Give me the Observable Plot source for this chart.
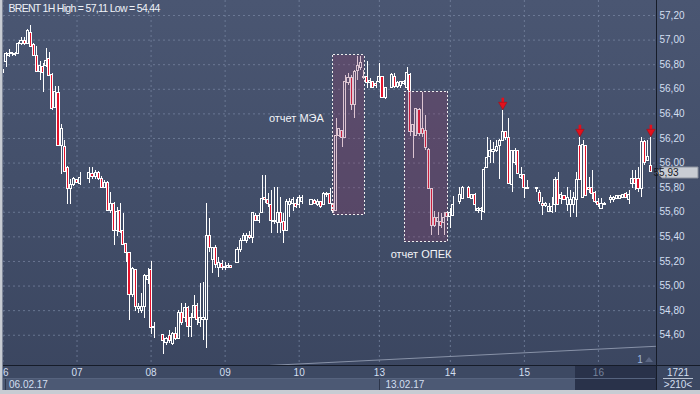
<!DOCTYPE html>
<html><head><meta charset="utf-8">
<script src="https://cdn.jsdelivr.net/npm/d3@7"></script>
<script src="https://cdn.jsdelivr.net/npm/@observablehq/plot@0.6"></script>
<style>
html,body{margin:0;padding:0;background:#c8ccd3;}
#chart{width:700px;height:394px;overflow:hidden;}
svg{display:block;}
</style></head><body><div id="chart"></div>
<script>
// ---- data (hour index since 06.02 00:00 on the chart's time grid) ----
const hours = [
0,1,2,3,4,5,6,7,8,9,10,11,12,13,14,15,16,17,18,19,20,21,22,23,24,25,
28,29,30,31,32,33,34,35,36,37,38,39,40,41,42,43,44,45,46,47,48,49,
52,53,54,55,56,57,58,59,60,61,62,63,64,65,66,67,68,69,70,71,72,73,74,
76,77,78,79,80,81,82,83,84,85,86,87,88,89,90,91,92,93,94,95,96,97,
100,101,102,103,104,105,106,107,108,109,110,111,112,113,114,115,116,117,118,119,120,121,122,123,124,
126,127,128,129,130,131,132,133,134,135,136,137,138,139,140,141,142,143,144,145,146,
148,149,
151,152,153,154,155,156,157,158,159,160,161,162,163,164,165,166,167,168,169,170,
173,174,175,176,177,178,179,180,181,182,183,184,185,186,187,188,189,190,191,192,193,194,195,
197,198,199,200,201,202,203,204,205,206,207,208,209,210];
const open = [
56.74,56.82,56.87,56.89,56.88,56.89,56.97,56.99,56.97,57.06,56.96,56.87,56.74,56.78,56.79,56.85,56.72,56.45,56.57,56.14,56.13,55.96,55.79,55.82,55.86,55.83,
55.87,55.91,55.89,55.92,55.87,55.80,55.84,55.61,55.67,55.45,55.61,55.45,55.34,55.27,54.93,55.13,54.81,54.80,54.83,55.05,55.13,54.66,
54.60,54.54,54.59,54.53,54.61,54.57,54.78,54.74,54.82,54.67,54.74,54.84,54.70,54.72,54.72,55.41,55.21,55.31,55.15,55.18,55.15,55.15,55.16,
55.19,55.29,55.37,55.37,55.41,55.39,55.57,55.53,55.59,55.72,55.70,55.66,55.53,55.51,55.59,55.52,55.45,55.66,55.67,55.67,55.66,55.68,
55.66,55.69,55.66,55.68,55.66,55.74,55.75,55.67,55.61,56.22,56.26,56.20,56.65,56.69,56.47,56.75,56.77,56.69,56.70,56.65,56.66,56.64,56.66,56.70,56.53,
56.61,56.70,56.62,56.63,56.64,56.61,56.72,56.25,56.22,56.43,56.28,56.26,56.11,55.79,55.55,55.52,55.52,55.51,55.59,55.56,55.57,
55.68,55.71,
55.80,55.71,55.74,55.61,55.61,55.60,55.96,56.05,56.09,56.10,56.14,56.18,56.25,56.20,55.82,56.00,56.10,55.88,55.90,55.79,
55.79,55.76,55.67,55.65,55.60,55.60,55.66,55.86,55.71,55.73,55.66,55.66,55.66,55.70,56.14,55.72,56.14,55.80,55.80,55.76,55.68,55.63,55.66,
55.70,55.70,55.71,55.71,55.72,55.75,55.70,55.83,55.87,55.87,55.79,56.17,56.02,55.98];
const high = [
56.76,56.90,56.92,56.90,56.90,56.98,57.02,57.02,57.09,57.12,56.97,56.95,56.83,56.81,56.93,56.90,56.73,56.62,56.62,56.31,56.18,55.97,55.87,55.88,55.87,55.92,
55.96,55.96,55.94,55.93,55.89,55.86,55.85,55.76,55.68,55.64,55.67,55.59,55.35,55.27,55.15,55.13,54.86,54.94,55.09,55.14,55.20,54.70,
54.61,54.58,54.64,54.62,54.66,54.80,54.86,54.86,54.83,54.78,54.92,54.86,55.02,55.03,55.67,55.55,55.31,55.33,55.23,55.21,55.19,55.18,55.16,
55.31,55.39,55.43,55.43,55.44,55.60,55.59,55.59,55.90,55.90,55.75,55.78,55.80,55.80,55.72,55.59,55.70,55.71,55.72,55.70,55.74,55.74,
55.70,55.70,55.70,55.69,55.76,55.76,55.79,55.67,56.36,56.28,56.26,56.71,56.73,56.71,56.75,56.87,56.87,56.75,56.83,56.69,56.66,56.66,56.81,56.70,56.61,
56.73,56.73,56.66,56.66,56.67,56.78,56.73,56.31,56.44,56.44,56.57,56.39,56.12,55.79,55.61,55.60,55.59,55.60,55.60,55.63,55.73,
55.80,55.81,
55.81,55.74,55.75,55.64,55.64,55.96,56.21,56.18,56.17,56.18,56.19,56.43,56.26,56.36,56.10,56.12,56.10,55.96,55.90,55.86,
55.79,55.78,55.72,55.68,55.67,55.72,55.88,55.92,55.76,55.74,55.80,55.78,55.76,55.92,56.21,56.18,56.14,55.88,55.94,55.77,55.71,55.71,55.68,
55.74,55.73,55.74,55.74,55.74,55.76,55.78,55.94,55.94,55.96,56.21,56.18,56.18,56.21];
const low = [
56.73,56.78,56.86,56.87,56.87,56.89,56.96,56.96,56.97,56.94,56.87,56.74,56.67,56.57,56.78,56.71,56.43,56.44,56.14,55.91,55.92,55.66,55.66,55.81,55.83,55.82,
55.83,55.87,55.87,55.86,55.79,55.79,55.61,55.59,55.33,55.40,55.43,55.33,55.19,54.72,54.91,54.79,54.78,54.78,54.74,55.01,54.61,54.57,
54.44,54.52,54.53,54.52,54.56,54.57,54.68,54.70,54.58,54.58,54.74,54.68,54.66,54.56,54.49,55.27,55.10,55.14,55.07,55.13,55.13,55.14,55.15,
55.19,55.27,55.36,55.35,55.38,55.35,55.53,55.51,55.59,55.67,55.64,55.43,55.50,55.43,55.43,55.35,55.44,55.56,55.61,55.63,55.63,55.66,
55.66,55.66,55.65,55.63,55.66,55.72,55.66,55.59,55.61,56.21,56.13,56.20,56.63,56.43,56.36,56.67,56.75,56.68,56.61,56.61,56.61,56.61,56.65,56.53,56.52,
56.61,56.61,56.61,56.61,56.63,56.59,56.22,56.04,56.22,56.22,56.21,56.10,55.79,55.41,55.48,55.41,55.47,55.41,55.53,55.47,55.57,
55.66,55.70,
55.71,55.70,55.61,55.59,55.53,55.59,55.96,56.00,56.00,56.09,55.87,56.18,56.18,55.83,55.76,55.98,55.91,55.87,55.71,55.79,
55.76,55.66,55.57,55.64,55.60,55.59,55.60,55.66,55.66,55.70,55.61,55.56,55.59,55.56,55.86,55.72,55.73,55.75,55.70,55.67,55.64,55.63,55.66,
55.67,55.68,55.70,55.70,55.71,55.71,55.66,55.79,55.78,55.76,55.72,55.98,56.01,55.92];
const close = [
56.75,56.89,56.89,56.89,56.89,56.97,56.99,56.97,57.07,56.94,56.87,56.74,56.79,56.73,56.83,56.71,56.44,56.58,56.14,56.28,55.93,55.79,55.82,55.87,55.84,55.88,
55.92,55.89,55.92,55.87,55.80,55.84,55.61,55.67,55.45,55.60,55.44,55.33,55.27,54.93,55.14,54.83,54.83,54.83,55.08,55.08,54.66,54.66,
54.55,54.57,54.55,54.61,54.57,54.78,54.70,54.82,54.67,54.74,54.84,54.72,54.74,54.74,55.41,55.31,55.31,55.17,55.19,55.15,55.15,55.16,55.15,
55.29,55.37,55.41,55.41,55.39,55.59,55.53,55.57,55.71,55.70,55.67,55.53,55.52,55.59,55.51,55.45,55.68,55.68,55.70,55.64,55.72,55.72,
55.70,55.67,55.68,55.64,55.75,55.75,55.67,55.61,56.22,56.28,56.20,56.66,56.69,56.47,56.74,56.79,56.81,56.70,56.65,56.67,56.61,56.63,56.70,56.53,56.61,
56.72,56.62,56.65,56.66,56.66,56.73,56.25,56.31,56.44,56.24,56.24,56.12,55.79,55.49,55.49,55.55,55.49,55.55,55.56,55.59,55.66,
55.74,55.80,
55.72,55.74,55.66,55.63,55.63,55.94,56.04,56.10,56.11,56.13,56.18,56.25,56.20,55.83,56.10,56.10,55.91,55.90,55.80,55.80,
55.79,55.68,55.65,55.67,55.64,55.64,55.86,55.66,55.74,55.70,55.72,55.70,55.72,55.86,55.86,56.15,55.73,55.78,55.75,55.68,55.66,55.67,55.67,
55.72,55.72,55.73,55.73,55.74,55.72,55.74,55.87,55.83,55.79,56.17,56.00,56.05,55.93];

const dayTicks  = [0,24,48,72,96,122,145,169,193];
const dayLabels = ["06","07","08","09","10","13","14","15","16"];
const weekStarts = [0,122];
const weekLabels = ["06.02.17","13.02.17"];
const priceTicks = [54.6,54.8,55.0,55.2,55.4,55.6,55.8,56.0,56.2,56.4,56.6,56.8,57.0,57.2];
const header = "BRENT 1H High = 57,11 Low = 54,44";
// report windows (time in hours, price bounds)
const boxStart = [107.1,130.2], boxEnd = [117.2,144.4];
const boxHigh = [56.875,56.58], boxLow = [55.574,55.355];
const noteText = ["отчет МЭА","отчет ОПЕК"], noteHour = [95.1,135.5], notePrice = [56.363,55.257];
const arrowHours = [162,187,210];
const indHours = [86.7,211.5], indValues = [54.355,54.51];
const lastPriceLabel = "55,93";
const cornerTop = "1721", cornerBottom = ">210<", paneIndex = "1";

// ---- build ----
const candles = hours.map((h,i)=>({h, open:open[i], high:high[i], low:low[i], close:close[i]}));
const boxes = boxStart.map((s,i)=>({h1:s, h2:boxEnd[i], top:boxHigh[i], bottom:boxLow[i]}));
const notes = noteText.map((t,i)=>({t, h:noteHour[i], p:notePrice[i]}));
const arrows = candles.filter(d=>arrowHours.includes(d.h));
const ind = indHours.map((h,i)=>({h, v:indValues[i]}));
const fmt = v => v.toFixed(2).replace(".", ",");
const RED = "#e4122c", TXT = "#d3dff0", ARROW = "#e3101c";
const bodyY2 = d => d.close === d.open ? d.open + 0.004 : d.close;

const chart = Plot.plot({
  width: 700, height: 394,
  marginTop: 0, marginBottom: 29, marginLeft: 3, marginRight: 45,
  x: {domain: [0.162, 211.5], axis: null},
  y: {domain: [54.354, 57.322], axis: null},
  style: {background: "linear-gradient(to bottom, #4a5672 0%, #434f6a 45%, #3a455f 100%)", color: TXT,
          fontFamily: "'Liberation Sans', Arial, sans-serif", fontSize: "10px", overflow: "visible"},
  marks: [
    Plot.gridY(priceTicks, {stroke: "#7784a0", strokeOpacity: 0.75, strokeDasharray: "2,3"}),
    Plot.gridX(dayTicks, {stroke: "#7784a0", strokeOpacity: 0.75, strokeDasharray: "2,3"}),
    Plot.line(ind, {x: "h", y: "v", stroke: "#8892a8", strokeWidth: 1}),
    Plot.ruleX(candles, {x: "h", y1: "high", y2: d => Math.max(d.open, d.close), stroke: "#fff", shapeRendering: "crispEdges"}),
    Plot.ruleX(candles, {x: "h", y1: d => Math.min(d.open, d.close), y2: "low", stroke: "#fff", shapeRendering: "crispEdges"}),
    Plot.rect(candles, {filter: d => d.close >= d.open, x1: d => d.h - 0.34, x2: d => d.h + 0.34, y1: "open", y2: bodyY2,
      fill: "none", stroke: "#fff", shapeRendering: "crispEdges"}),
    Plot.rect(candles, {filter: d => d.close < d.open, x1: d => d.h - 0.34, x2: d => d.h + 0.34, y1: "open", y2: "close",
      fill: RED, stroke: "#fff", shapeRendering: "crispEdges"}),
    Plot.rect(boxes, {x1: "h1", x2: "h2", y1: "bottom", y2: "top", fill: "#8a3d66", fillOpacity: 0.3,
      stroke: "#eeeeee", strokeDasharray: "2,2", shapeRendering: "crispEdges"}),
    Plot.text(notes, {x: "h", y: "p", text: "t", fill: "#f2f4f8", fontSize: 11}),
    // red down-arrows: stem + head above the marked highs
    Plot.ruleX(arrows, {x: "h", y1: "high", y2: "high", insetTop: -12, insetBottom: 7, stroke: ARROW, strokeWidth: 2.6}),
    Plot.dot(arrows, {x: "h", y: "high", symbol: "triangle", rotate: 180, r: 3.1, fill: ARROW, stroke: "#a80c14", strokeWidth: 0.6, dy: -5.5}),
    Plot.text([header], {frameAnchor: "top-left", dx: 5, dy: 8, textAnchor: "start", lineAnchor: "middle", fill: "#eef2f8", fontSize: 10.5}),
    Plot.text(priceTicks, {y: d => d, text: fmt, frameAnchor: "right", dx: 4, textAnchor: "start", lineAnchor: "middle", fill: TXT}),
    Plot.text(dayTicks, {x: d => d, text: (d, i) => dayLabels[i], frameAnchor: "bottom", dy: 7, lineAnchor: "middle",
      fill: (d, i) => i === dayTicks.length - 1 ? "#76829a" : TXT}),
    Plot.text(weekStarts, {x: d => d, text: (d, i) => weekLabels[i], frameAnchor: "bottom", dy: 19, dx: 6, textAnchor: "start", lineAnchor: "middle", fill: TXT})
  ]
});
document.getElementById("chart").append(chart);

// ---- chart chrome (panels, borders, price marker) ----
const svg = d3.select(chart);
svg.selectAll("text").filter(function() { return this.textContent === header; }).style("letter-spacing", "-0.7px");
const xs = chart.scale("x"), ys = chart.scale("y");
const R = 655, B = 365;
const back = svg.insert("g", ":first-child");
back.append("rect").attr("x", 3).attr("y", B).attr("width", R - 3).attr("height", 13).attr("fill", "#3d4963");
back.append("rect").attr("x", 3).attr("y", B + 13).attr("width", R - 3).attr("height", 12).attr("fill", "#4c5974");
back.append("rect").attr("x", 575).attr("y", B).attr("width", R + 1 - 575).attr("height", 25).attr("fill", "#29324a");
back.append("rect").attr("x", R + 1).attr("y", B).attr("width", 44).attr("height", 25).attr("fill", "#3b4761");
weekStarts.forEach(w => {
  const x = Math.max(5.5, Math.round(xs.apply(w)) + 0.5);
  back.append("line").attr("x1", x).attr("x2", x).attr("y1", B + 13).attr("y2", B + 25).attr("stroke", "#2c354a");
});
const front = svg.append("g");
front.append("line").attr("x1", 3).attr("x2", 700).attr("y1", B + 0.5).attr("y2", B + 0.5).attr("stroke", "#161c29");
front.append("line").attr("x1", R + 1.5).attr("x2", R + 1.5).attr("y1", 0).attr("y2", 390).attr("stroke", "#161c29");
front.append("line").attr("x1", 3).attr("x2", R).attr("y1", B + 13.5).attr("y2", B + 13.5).attr("stroke", "#56637e");
front.append("text").attr("x", 678).attr("y", 372).attr("dy", "0.35em").attr("text-anchor", "middle").attr("fill", TXT).text(cornerTop);
front.append("line").attr("x1", 663).attr("x2", 693).attr("y1", 378.5).attr("y2", 378.5).attr("stroke", "#b8c2d2");
front.append("text").attr("x", 678).attr("y", 384.5).attr("dy", "0.35em").attr("text-anchor", "middle").attr("fill", TXT).text(cornerBottom);
front.append("text").attr("x", 640).attr("y", 359).attr("dy", "0.35em").attr("text-anchor", "middle").attr("fill", "#9db6da").text(paneIndex);
front.append("path").attr("d", "M645,362L653,362L649,357Z").attr("fill", "#5b6784");
// last price marker
const yp = Math.round(ys.apply(close[close.length - 1])) + 1.5;
front.append("path").attr("d", `M657,${yp}L662,${yp-5.5}L698,${yp-5.5}L698,${yp+5.5}L662,${yp+5.5}Z`)
  .attr("fill", "#c9cdd4").attr("stroke", "#8c929e");
front.append("text").attr("x", 666).attr("y", yp).attr("dy", "0.35em").attr("fill", "#15181f").text(lastPriceLabel);
// outer frame
front.append("rect").attr("x", 0).attr("y", 0).attr("width", 2).attr("height", 394).attr("fill", "#c8ccd3");
front.append("rect").attr("x", 2).attr("y", 0).attr("width", 1).attr("height", 390).attr("fill", "#7e8698");
front.append("rect").attr("x", 0).attr("y", 390).attr("width", 700).attr("height", 4).attr("fill", "#c8ccd3");
</script></body></html>
